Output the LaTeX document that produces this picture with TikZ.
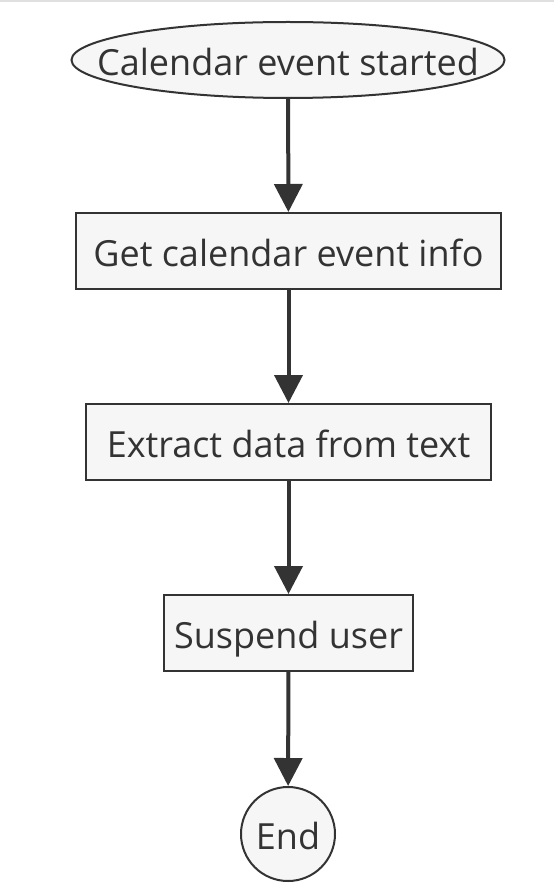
\documentclass[tikz,border=0pt]{standalone}
\usepackage{fontspec}
\setmainfont{Open Sans}
\usetikzlibrary{arrows.meta}
\definecolor{edge}{HTML}{333333}
\definecolor{boxfill}{HTML}{F6F6F6}

\begin{document}
\begin{tikzpicture}[x=1pt, y=-1pt,
	stepbox/.style={draw=edge, line width=2pt, fill=boxfill, text=edge, minimum height=76pt, inner sep=0pt, text height=31pt, text depth=0pt, font=\fontsize{36}{42}\selectfont},
	flow/.style={draw=edge, line width=4pt, -{Triangle[length=28pt, width=28pt]}}]
	\useasboundingbox (0,0) rectangle (554,890);
	\fill[white] (0,0) rectangle (554,890);
	\draw[black!12, line width=2pt] (0,1) -- (554,1);
	% start ellipse
	\draw[draw=edge, line width=2pt, fill=boxfill] (288,60) ellipse [x radius=216.5pt, y radius=38pt];
	\node[stepbox, draw=none, fill=none, minimum width=433pt] (start) at (288,60) {Calendar event started};
	% steps
	\node[stepbox, minimum width=425pt] (info) at (288.5,251) {Get calendar event info};
	\node[stepbox, minimum width=405pt] (extract) at (288.5,442) {Extract data from text};
	\node[stepbox, minimum width=249pt] (suspend) at (288.5,633) {Suspend user};
	\node[stepbox, circle, minimum size=94pt] (end) at (288,834) {End};
	% arrows
	\draw[flow] (start) -- (info);
	\draw[flow] (info) -- (extract);
	\draw[flow] (extract) -- (suspend);
	\draw[flow] (suspend) -- (end);
\end{tikzpicture}
\end{document}
